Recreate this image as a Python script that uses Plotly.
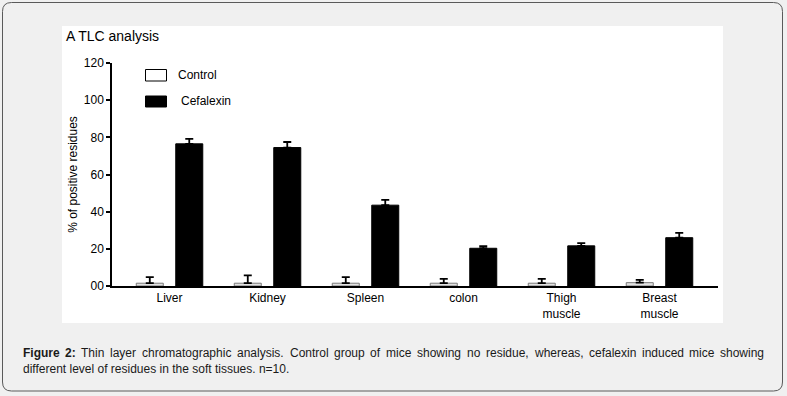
import plotly.graph_objects as go

# ---------------- data ----------------
categories = ["Liver", "Kidney", "Spleen", "colon", "Thigh<br>muscle", "Breast<br>muscle"]
control_vals = [1.5, 1.5, 1.5, 1.5, 1.5, 1.8]
control_err = [3.3, 4.2, 3.3, 2.3, 2.3, 1.5]
cefalexin_vals = [76.5, 74.5, 43.5, 20.3, 21.6, 26.0]
cefalexin_err = [2.7, 3.0, 2.8, 1.1, 1.5, 2.6]
y_ticks = [0, 20, 40, 60, 80, 100, 120]
y_ticktext = ["00", "20", "40", "60", "80", "100", "120"]

caption_bold = ["Figure", "2:"]
caption_line1 = ["Thin", "layer", "chromatographic", "analysis.", "Control", "group", "of",
                 "mice", "showing", "no", "residue,", "whereas,", "cefalexin", "induced",
                 "mice", "showing"]
caption_line2 = "different level of residues in the soft tissues. n=10."

# ---------------- layout geometry (pixels) ----------------
W, H = 787, 396
L, R, T, B = 112, 69, 63, 110
PW = W - L - R
PH = H - T - B
FONT = "Liberation Sans, Arial, Helvetica, sans-serif"
CAP_SIZE = 12
CAP_LEFT, CAP_RIGHT = 21.7, 763.3


def xp(px):
    return (px - L) / PW


def yp(py):
    return (H - B - py) / PH


# Arial / Liberation Sans advance widths (1/1000 em) used to justify the caption line
REG = {" ": 278, ".": 278, ",": 278, ":": 278, "=": 584, "a": 556, "b": 556, "c": 500,
       "d": 556, "e": 556, "f": 278, "g": 556, "h": 556, "i": 222, "l": 222, "m": 833,
       "n": 556, "o": 556, "p": 556, "r": 333, "s": 500, "t": 278, "u": 556, "v": 500,
       "w": 722, "x": 500, "y": 500, "C": 722, "F": 611, "T": 611}
BOLD = {"F": 611, "i": 278, "g": 611, "u": 611, "r": 389, "e": 556, "2": 556, ":": 333}


def text_w(word, table):
    return sum(table.get(ch, 556) for ch in word) * CAP_SIZE / 1000.0


fig = go.Figure()
fig.add_trace(go.Bar(
    x=categories, y=control_vals, name="Control",
    marker=dict(color="#e2e2e2", line=dict(color="#7a7a7a", width=1)),
    error_y=dict(type="data", symmetric=False, array=control_err,
                 arrayminus=[0] * len(control_err), color="black", thickness=1.8, width=4),
))
fig.add_trace(go.Bar(
    x=categories, y=cefalexin_vals, name="Cefalexin",
    marker=dict(color="black", line=dict(color="black", width=1)),
    error_y=dict(type="data", symmetric=False, array=cefalexin_err,
                 arrayminus=[0] * len(cefalexin_err), color="black", thickness=1.8, width=4),
))

shapes = []
# outer rounded border
x0, y0, x1, y1, r = 2.5, 2.5, 782.5, 391, 9
rx, ry = r / PW, r / PH
X0, X1, Y0, Y1 = xp(x0), xp(x1), yp(y0), yp(y1)
path = (f"M {X0+rx},{Y0} L {X1-rx},{Y0} Q {X1},{Y0} {X1},{Y0-ry} "
        f"L {X1},{Y1+ry} Q {X1},{Y1} {X1-rx},{Y1} L {X0+rx},{Y1} "
        f"Q {X0},{Y1} {X0},{Y1+ry} L {X0},{Y0-ry} Q {X0},{Y0} {X0+rx},{Y0} Z")
shapes.append(dict(type="path", xref="paper", yref="paper", path=path,
                   line=dict(color="#5a5a5a", width=1), fillcolor="#f0f0f0", layer="below"))
# white panel
shapes.append(dict(type="rect", xref="paper", yref="paper",
                   x0=xp(62), x1=xp(723), y0=yp(323), y1=yp(26),
                   line=dict(width=0), fillcolor="white", layer="below"))
# legend boxes
shapes.append(dict(type="rect", xref="paper", yref="paper",
                   x0=xp(145.5), x1=xp(166.5), y0=yp(81), y1=yp(69.5),
                   line=dict(color="black", width=1), fillcolor="white"))
shapes.append(dict(type="rect", xref="paper", yref="paper",
                   x0=xp(145.5), x1=xp(166.5), y0=yp(107), y1=yp(96),
                   line=dict(color="black", width=1), fillcolor="black"))

annotations = [
    dict(text="Control", x=xp(176), y=yp(75), xref="paper", yref="paper",
         xanchor="left", yanchor="middle", showarrow=False,
         font=dict(family=FONT, size=12, color="black")),
    dict(text="Cefalexin", x=xp(179), y=yp(101), xref="paper", yref="paper",
         xanchor="left", yanchor="middle", showarrow=False,
         font=dict(family=FONT, size=12, color="black")),
    dict(text="A TLC analysis", x=xp(64), y=yp(36), xref="paper", yref="paper",
         xanchor="left", yanchor="middle", showarrow=False,
         font=dict(family=FONT, size=14, color="black")),
]

# caption: first line justified between CAP_LEFT and CAP_RIGHT
words = [(w, True) for w in caption_bold] + [(w, False) for w in caption_line1]
widths = [text_w(w, BOLD if b else REG) for w, b in words]
gap = (CAP_RIGHT - CAP_LEFT - sum(widths)) / (len(words) - 1)
cx = CAP_LEFT
for (w, b), ww in zip(words, widths):
    annotations.append(dict(text=f"<b>{w}</b>" if b else w, x=xp(cx), y=yp(352.5),
                            xref="paper", yref="paper", xanchor="left", yanchor="middle",
                            showarrow=False, borderpad=0,
                            font=dict(family=FONT, size=CAP_SIZE, color="#1a1a1a")))
    cx += ww + gap
annotations.append(dict(text=caption_line2, x=xp(CAP_LEFT), y=yp(368.5),
                        xref="paper", yref="paper", xanchor="left", yanchor="middle",
                        showarrow=False, borderpad=0,
                        font=dict(family=FONT, size=CAP_SIZE, color="#1a1a1a")))

fig.update_layout(
    width=W, height=H,
    margin=dict(l=L, r=R, t=T, b=B, pad=0),
    paper_bgcolor="#f0f0f0", plot_bgcolor="white",
    barmode="group", bargap=0.194, bargroupgap=0.316,
    showlegend=False,
    font=dict(family=FONT, size=12, color="black"),
    shapes=shapes, annotations=annotations,
    xaxis=dict(type="category", range=[-0.587, 5.597], showline=True, linecolor="black",
               linewidth=1.5, ticks="", showgrid=False, zeroline=False,
               tickfont=dict(family=FONT, size=12, color="black")),
    yaxis=dict(range=[0, 120], tickvals=y_ticks, ticktext=y_ticktext, showline=True,
               linecolor="black", linewidth=1.5, ticks="outside", ticklen=4, tickwidth=1.5,
               tickcolor="black", showgrid=False, zeroline=False,
               tickfont=dict(family=FONT, size=12, color="black"),
               title=dict(text="% of positive residues", standoff=4,
                          font=dict(family=FONT, size=12, color="black"))),
)

fig.write_html("out.html", config={"displayModeBar": False},
               post_script="document.body.style.margin='0';")
